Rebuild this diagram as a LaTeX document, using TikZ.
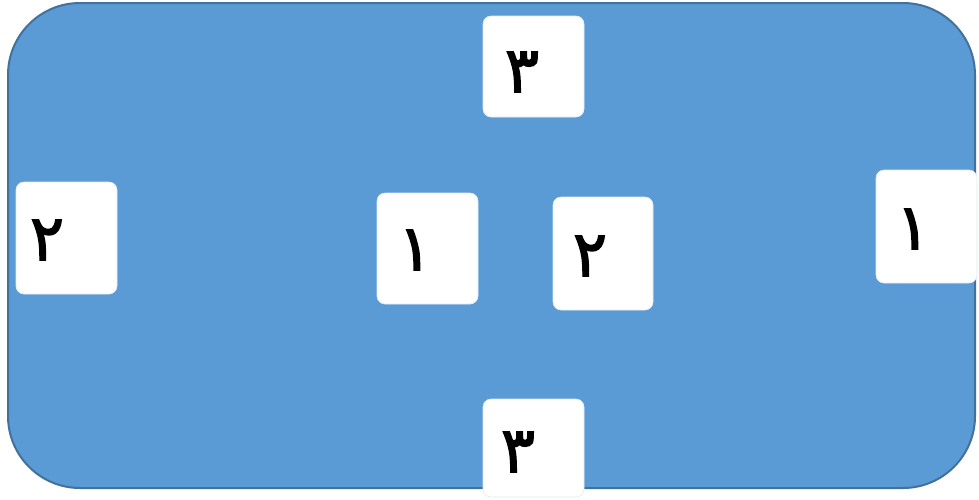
\documentclass[tikz,border=0pt]{standalone}
\usepackage{fontspec}
\TeXXeTstate=1
\newfontfamily\arabicfont[Script=Arabic,FakeBold=2]{DejaVu Sans}
\definecolor{panelfill}{HTML}{5B9BD5}
\definecolor{paneledge}{HTML}{41719C}
\tikzset{
  panel/.style={draw=paneledge, line width=2pt, fill=panelfill, rounded corners=72pt},
  tile/.style={fill=white, draw=white!80!panelfill, line width=0.6pt, rounded corners=8pt},
  digit/.style={font=\arabicfont\fontsize{64}{64}\selectfont, inner sep=0pt, text=black}
}
\begin{document}
\begin{tikzpicture}[x=1pt,y=-1pt]
\useasboundingbox (0,0) rectangle (979,499);
\draw[panel] (8,3) rectangle (975,488);
% tiles
\draw[tile] (483,16) rectangle (584,117);
\draw[tile] (16,182) rectangle (117,294);
\draw[tile] (377,193) rectangle (478,304);
\draw[tile] (553,197) rectangle (653,310);
\draw[tile] (876,170) rectangle (977,283);
\draw[tile] (483,399) rectangle (584,497);
% digits
\node[digit] (d3top) at (522,72) {\beginR ۳\endR};
\node[digit] (d2left) at (47,240) {\beginR ۲\endR};
\node[digit] (d1cl) at (415,250) {\beginR ۱\endR};
\node[digit] (d2cr) at (590,256) {\beginR ۲\endR};
\node[digit] (d1right) at (913,229) {\beginR ۱\endR};
\node[digit] (d3bot) at (518,452) {\beginR ۳\endR};
\end{tikzpicture}
\end{document}
